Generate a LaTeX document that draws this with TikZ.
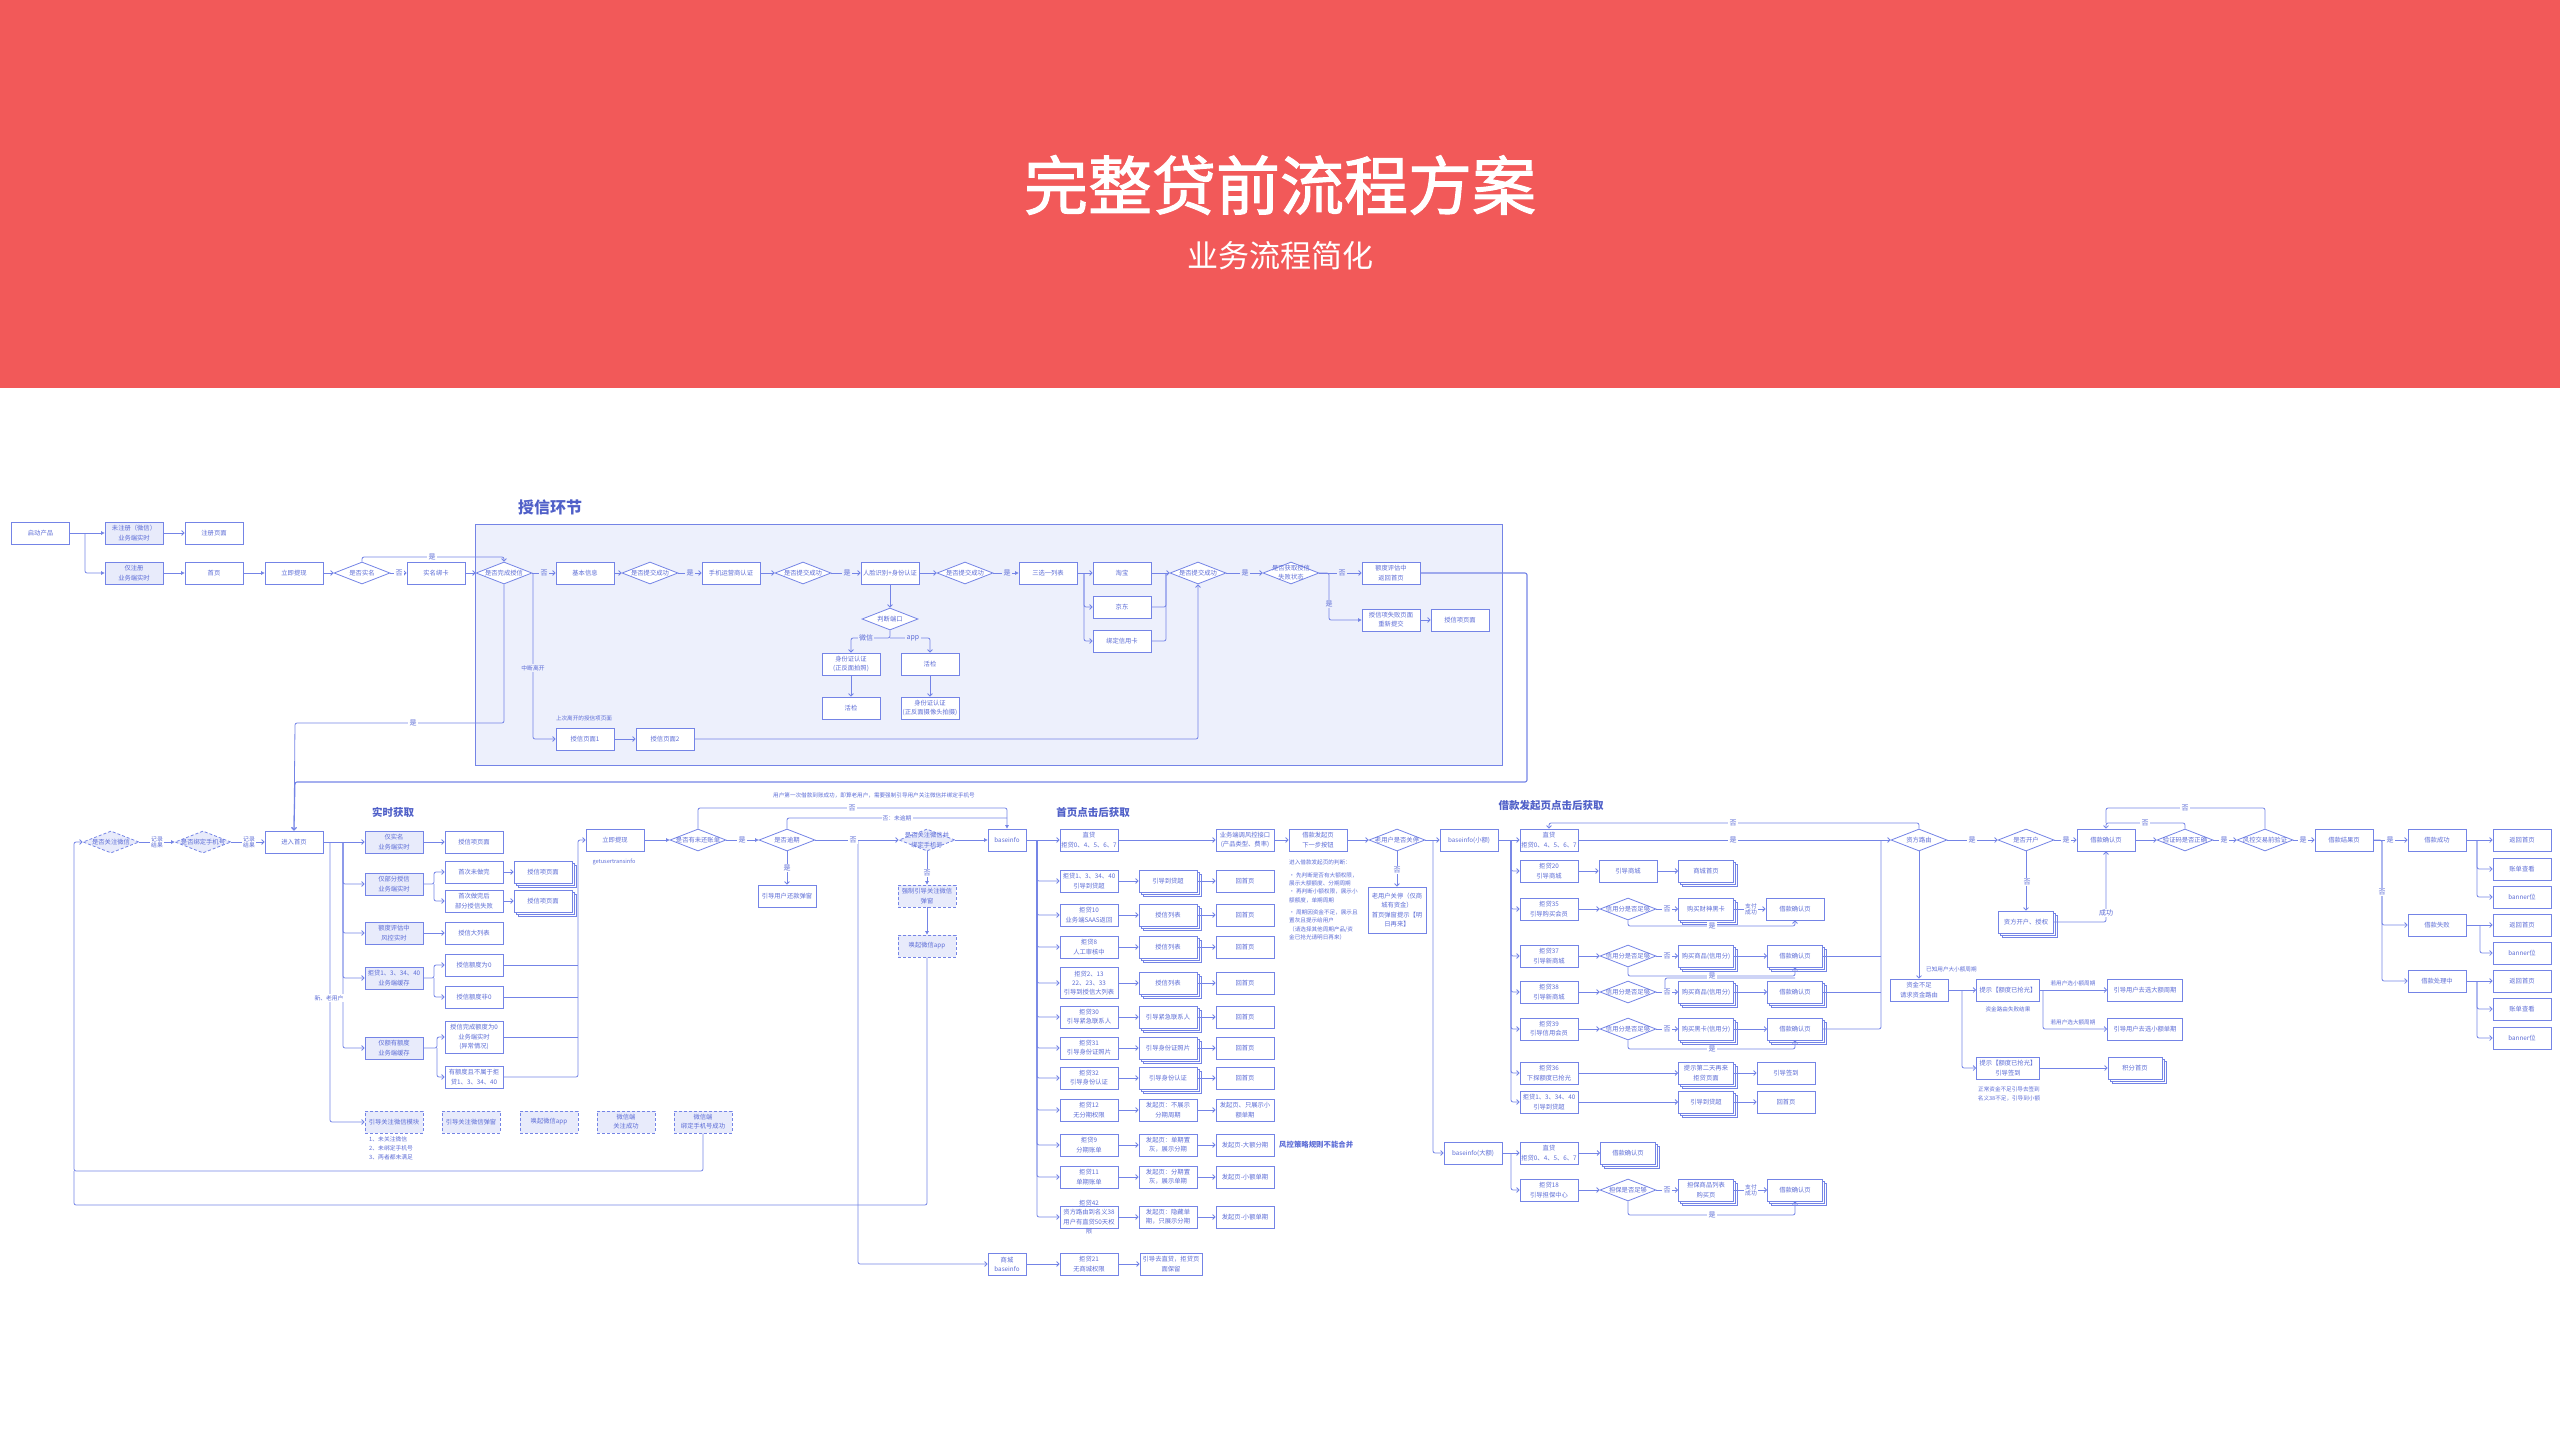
\documentclass[tikz,border=0pt]{standalone}
\usepackage{fontspec}
\setmainfont{Noto Sans CJK SC}
\newfontfamily\tmedium{Noto Sans CJK SC}[FakeBold=1.6]
\usetikzlibrary{arrows.meta,shapes.geometric,shadows}
\definecolor{lc}{RGB}{116,132,230}
\definecolor{tc}{RGB}{92,108,214}
\definecolor{hc}{RGB}{80,96,200}
\definecolor{rf}{RGB}{237,240,252}
\definecolor{lf}{RGB}{232,235,251}
\definecolor{bannerc}{RGB}{242,89,89}
\newcommand\fbx{\fontsize{6.3pt}{9.2pt}\selectfont}
\newcommand\flb{\fontsize{7pt}{8pt}\selectfont}
\newcommand\fnt{\fontsize{5.6pt}{8.3pt}\selectfont}
\newcommand\fsml{\fontsize{5.8pt}{9.2pt}\selectfont}
\newcommand\fsec{\fontsize{10.5pt}{12pt}\selectfont}
\newcommand\DIA[4][dia]{\node[#1] (#2) at (#3) {}; \node[dt] at (#2) {#4};}
\newcommand\LB[3][lb]{\node[#1] at (#2) {#3};}
\tikzset{
 bx/.style={draw=lc, fill=white, line width=0.8pt, minimum width=58pt, minimum height=22pt, inner sep=1pt, align=center, font=\fbx, text=tc},
 bxf/.style={bx, fill=lf},
 dbx/.style={bx, fill=lf, dash pattern=on 3pt off 2pt},
 stk/.style={bx, double copy shadow={shadow xshift=2pt, shadow yshift=-2pt, draw=lc, fill=white, line width=0.6pt}},
 dia/.style={diamond, draw=lc, fill=white, line width=0.8pt, minimum width=56pt, minimum height=22pt, inner sep=0pt, aspect=2.5},
 ddia/.style={dia, fill=lf, dash pattern=on 3pt off 2pt},
 dt/.style={font=\fbx, text=tc, align=center, inner sep=0pt},
 ln/.style={draw=lc, line width=0.8pt, rounded corners=2pt},
 ar/.style={-{Straight Barb[length=2.5pt,width=5pt]}},
 af/.style={-{Triangle[length=3.5pt,width=3.5pt]}},
 lb/.style={font=\flb, text=tc, fill=white, inner sep=1.2pt, align=center},
 lbr/.style={lb, fill=rf},
 sl/.style={font=\fsml, text=tc, fill=white, inner sep=1pt, align=center},
 nt/.style={font=\fnt, text=tc, inner sep=0pt, align=left},
 sec/.style={font={\fsec\bfseries}, text=hc},
}
\begin{document}
\begin{tikzpicture}[x=1pt,y=-1pt]
\useasboundingbox (0,0) rectangle (2560,1440);
% banner
\fill[bannerc] (0,0) rectangle (2560,388);
\node[text=white, font={\tmedium\fontsize{64pt}{70pt}\selectfont}] (title) at (1280,185) {完整贷前流程方案};
\node[text=white, font={\fontsize{31pt}{34pt}\selectfont}] (subtitle) at (1280,256) {业务流程简化};
% credit region
\draw[draw=lc, fill=rf, line width=0.9pt] (475,524) rectangle (1502,765);
\node[text=hc, font={\fontsize{16pt}{18pt}\selectfont\bfseries}] (sxt) at (550,507) {授信环节};

% ---------- row 1 ----------
\node[bx] (n1) at (40.5,533) {启动产品};
\node[bxf] (n2) at (134,533) {未注册（微信）\\业务端实时};
\node[bx] (n3) at (214,533) {注册页面};
\node[bxf] (n4) at (134,573) {仅注册\\业务端实时};
\node[bx] (n5) at (214,573) {首页};
\node[bx] (n6) at (294,573) {立即提现};
\DIA{d1}{362,573}{是否实名}
\node[bx] (n7) at (436,573) {实名绑卡};
\DIA{d2}{504,573}{是否完成授信}
\node[bx] (n8) at (585,573) {基本信息};
\DIA{d3}{650,573}{是否提交成功}
\node[bx] (n9) at (731,573) {手机运营商认证};
\DIA{d4}{803,573}{是否提交成功}
\node[bx] (n10) at (890,573) {人脸识别+身份认证};
\DIA{d5}{965,573}{是否提交成功}
\node[bx] (n11) at (1048,573) {三选一列表};
\node[bx] (n12) at (1122,573) {淘宝};
\node[bx] (n13) at (1122,607) {京东};
\node[bx] (n14) at (1122,641) {绑定信用卡};
\DIA{d6}{1198,573}{是否提交成功}
\DIA{d7}{1291,573}{是否获取授信\\失败状态}
\node[bx] (n15) at (1391,573) {额度评估中\\返回首页};
\node[bx] (n16) at (1391,620) {授信项失败页面\\重新提交};
\node[bx] (n17) at (1460,620) {授信项页面};
\DIA{d8}{890,619}{判断端口}
\node[bx] (n18) at (851,664) {身份证认证\\(正反面拍照)};
\node[bx] (n19) at (851,708) {活检};
\node[bx] (n20) at (930,664) {活检};
\node[bx] (n21) at (930,708) {身份证认证\\(正反面摄像头拍摄)};
\node[bx] (n22) at (585,739) {授信页面1};
\node[bx] (n23) at (665,739) {授信页面2};
\node[nt] (t1) at (584,718) {上次离开的授信项页面};

% ---------- 实时获取 ----------
\node[sec] (sec1) at (393,812) {实时获取};
\DIA[ddia]{d9}{111,842}{是否关注微信}
\DIA[ddia]{d10}{203,842}{是否绑定手机号}
\node[bx] (n24) at (294,842) {进入首页};
\node[bxf] (n25) at (394,842) {仅实名\\业务端实时};
\node[bxf] (n26) at (394,884) {仅部分授信\\业务端实时};
\node[bxf] (n27) at (394,933) {额度评估中\\风控实时};
\node[bxf] (n28) at (394,978) {拒贷1、3、34、40\\业务端缓存};
\node[bxf] (n29) at (394,1048) {仅额有额度\\业务端缓存};
\node[dbx] (n30) at (394,1122) {引导关注微信模块};
\node[nt, font=\fsml, anchor=north west] (t2) at (369,1136) {1、未关注微信\\2、未绑定手机号\\3、两者都未满足};
\node[bx] (n31) at (474,842) {授信项页面};
\node[bx] (n32) at (474,872) {首次未做完};
\node[bx] (n33) at (474,901) {首次做完后\\部分授信失败};
\node[stk] (n34) at (543,872) {授信项页面};
\node[stk] (n35) at (543,901) {授信项页面};
\node[bx] (n36) at (474,933) {授信大列表};
\node[bx] (n37) at (474,965) {授信额度为0};
\node[bx] (n38) at (474,997) {授信额度非0};
\node[bx, minimum height=32pt] (n39) at (474,1037) {授信完成额度为0\\业务端实时\\(异常情况)};
\node[bx] (n40) at (474,1077) {有额度且不属于拒\\贷1、3、34、40};
\node[dbx] (n41) at (471,1122) {引导关注微信弹窗};
\node[dbx] (n42) at (549,1122) {唤起微信app};
\node[dbx] (n43) at (626,1122) {微信端\\关注成功};
\node[dbx] (n44) at (703,1122) {微信端\\绑定手机号成功};

% ---------- middle ----------
\node[bx] (n45) at (615,840) {立即提现};
\node[nt] (t3) at (614,862) {getusertransinfo};
\DIA{d11}{698,840}{是否有未还账单}
\DIA{d12}{787,840}{是否逾期}
\node[bx] (n46) at (787,896) {引导用户还款弹窗};
\DIA[ddia]{d13}{927,840}{是否关注微信并\\绑定手机号}
\node[dbx] (n47) at (927,896) {强制引导关注微信\\弹窗};
\node[dbx] (n48) at (927,946) {唤起微信app};
\node[bx, minimum width=38pt] (n49) at (1007,840) {baseinfo};
\node[nt] (t4) at (874,795) {用户第一次借款到账成功，即算老用户，需要强制引导用户关注微信并绑定手机号};

% ---------- 首页点击后获取 ----------
\node[sec] (sec2) at (1093,812) {首页点击后获取};
\node[bx] (a1) at (1089,840) {直贷\\拒贷0、4、5、6、7};
\node[bx] (a2) at (1089,881) {拒贷1、3、34、40\\引导到贷超};
\node[bx] (a3) at (1089,915) {拒贷10\\业务端SAAS返回};
\node[bx] (a4) at (1089,947) {拒贷8\\人工审核中};
\node[bx, minimum height=31pt] (a5) at (1089,983) {拒贷2、13\\22、23、33\\引导到授信大列表};
\node[bx] (a6) at (1089,1017) {拒贷30\\引导紧急联系人};
\node[bx] (a7) at (1089,1048) {拒贷31\\引导身份证照片};
\node[bx] (a8) at (1089,1078) {拒贷32\\引导身份认证};
\node[bx] (a9) at (1089,1110) {拒贷12\\无分期权限};
\node[bx] (a10) at (1089,1145) {拒贷9\\分期账单};
\node[bx] (a11) at (1089,1177) {拒贷11\\单期账单};
\node[bx] (a12) at (1089,1217) {};
\node[dt] (a12t) at (a12) {拒贷42\\资方路由到名义38\\用户有直贷50天权\\限};
\node[stk] (b2) at (1168,881) {引导到贷超};
\node[stk] (b3) at (1168,915) {授信列表};
\node[stk] (b4) at (1168,947) {授信列表};
\node[stk] (b5) at (1168,983) {授信列表};
\node[stk] (b6) at (1168,1017) {引导紧急联系人};
\node[stk] (b7) at (1168,1048) {引导身份证照片};
\node[stk] (b8) at (1168,1078) {引导身份认证};
\node[bx] (b9) at (1168,1110) {发起页：不展示\\分期周期};
\node[bx] (b10) at (1168,1145) {发起页：单期置\\灰，展示分期};
\node[bx] (b11) at (1168,1177) {发起页：分期置\\灰，展示单期};
\node[bx] (b12) at (1168,1217) {发起页：隐藏单\\期，只展示分期};
\node[bx] (c1) at (1245,840) {业务端调风控接口\\(产品类型、费率)};
\node[bx] (c2) at (1245,881) {回首页};
\node[bx] (c3) at (1245,915) {回首页};
\node[bx] (c4) at (1245,947) {回首页};
\node[bx] (c5) at (1245,983) {回首页};
\node[bx] (c6) at (1245,1017) {回首页};
\node[bx] (c7) at (1245,1048) {回首页};
\node[bx] (c8) at (1245,1078) {回首页};
\node[bx] (c9) at (1245,1110) {发起页、只展示小\\额单期};
\node[bx] (c10) at (1245,1145) {发起页-大额分期};
\node[bx] (c11) at (1245,1177) {发起页-小额单期};
\node[bx] (c12) at (1245,1217) {发起页-小额单期};
\node[text=tc, font={\fontsize{7.4pt}{9pt}\selectfont\bfseries}, anchor=west, inner sep=0pt] (t5) at (1279,1145) {风控策略规则不能合并};
\node[bx, minimum width=38pt] (m1) at (1007,1264) {商城\\baseinfo};
\node[bx] (m2) at (1089,1264) {拒贷21\\无商城权限};
\node[bx, minimum width=62pt] (m3) at (1171,1264) {引导去直贷，拒贷页\\面保留};

% ---------- 借款发起页 ----------
\node[sec] (sec3) at (1551,806) {借款发起页点击后获取};
\node[bx] (p1) at (1318,840) {借款发起页\\下一步按钮};
\node[nt, anchor=north west] (t6) at (1289,860) {进入借款发起页的判断：\\[4pt]• 先判断是否有大额权限，\\展示大额额度、分期周期\\• 再判断小额权限，展示小\\额额度，单期周期\\[4pt]• 周期因资金不足，展示且\\置灰且提示给用户\\（请选择其他周期产品/资\\金已抢光请明日再来）};
\DIA{d14}{1397,840}{老用户是否关停}
\node[bx, minimum height=46pt] (p2) at (1397,910) {老用户关停（仅商\\城有资金）\\首页弹窗提示【明\\日再来】};
\node[bx] (p3) at (1469,840) {baseinfo(小额)};
\node[bx] (p4) at (1473,1153) {baseinfo(大额)};
\node[bx] (q1) at (1549,840) {直贷\\拒贷0、4、5、6、7};
\node[bx] (q2) at (1549,871) {拒贷20\\引导商城};
\node[bx] (q3) at (1549,909) {拒贷35\\引导购买会员};
\node[bx] (q4) at (1549,956) {拒贷37\\引导新商城};
\node[bx] (q5) at (1549,992) {拒贷38\\引导新商城};
\node[bx] (q6) at (1549,1029) {拒贷39\\引导信用会员};
\node[bx] (q7) at (1549,1073) {拒贷36\\下探额度已抢光};
\node[bx] (q8) at (1549,1102) {拒贷1、3、34、40\\引导到贷超};
\node[bx] (q9) at (1549,1153) {直贷\\拒贷0、4、5、6、7};
\node[bx] (q10) at (1549,1190) {拒贷18\\引导担保中心};
\node[bx] (s2) at (1628,871) {引导商城};
\node[stk, minimum width=55pt] (s2b) at (1706,871) {商城首页};
\DIA{r3}{1628,909}{信用分是否足够}
\DIA{r4}{1628,956}{信用分是否足够}
\DIA{r5}{1628,992}{信用分是否足够}
\DIA{r6}{1628,1029}{信用分是否足够}
\DIA{r10}{1628,1190}{担保是否足够}
\node[stk, minimum width=55pt] (k9) at (1628,1153) {借款确认页};
\node[stk, minimum width=55pt] (t3b) at (1706,909) {购买财神黑卡};
\node[stk, minimum width=55pt] (t4b) at (1706,956) {购买商品(信用分)};
\node[stk, minimum width=55pt] (t5b) at (1706,992) {购买商品(信用分)};
\node[stk, minimum width=55pt] (t6b) at (1706,1029) {购买黑卡(信用分)};
\node[stk, minimum width=55pt] (t7b) at (1706,1073) {提示第二天再来\\拒贷页面};
\node[stk, minimum width=55pt] (t8b) at (1706,1102) {引导到贷超};
\node[stk, minimum width=55pt] (t10b) at (1706,1190) {担保商品列表\\购买页};
\node[bx] (u3) at (1795,909) {借款确认页};
\node[stk, minimum width=55pt] (u4) at (1795,956) {借款确认页};
\node[stk, minimum width=55pt] (u5) at (1795,992) {借款确认页};
\node[stk, minimum width=55pt] (u6) at (1795,1029) {借款确认页};
\node[bx] (u7) at (1786,1073) {引导签到};
\node[bx] (u8) at (1786,1102) {回首页};
\node[stk, minimum width=55pt] (u10) at (1795,1190) {借款确认页};
\DIA{d15}{1919,840}{资方路由}
\DIA{d16}{2026,840}{是否开户}
\node[stk, minimum width=55pt] (v1) at (2026,922) {资方开户、授权};
\node[bx] (w1) at (2106,840) {借款确认页};
\node[bx] (x1) at (1919,990) {资金不足\\请求资金路由};
\node[bx, minimum width=63pt] (x2) at (2008,990) {提示【额度已抢光】};
\node[bx, minimum width=63pt] (x3) at (2008,1068) {提示【额度已抢光】\\引导签到};
\node[bx, minimum width=75pt] (y1) at (2145,990) {引导用户去选大额周期};
\node[bx, minimum width=75pt] (y2) at (2145,1029) {引导用户去选小额单期};
\node[stk, minimum width=54pt] (y3) at (2135,1068) {积分首页};
\node[nt, anchor=west] (t7) at (1926,969) {已知用户大小额周期};
\node[nt] (t8) at (2008,1009) {资金路由失败结果};
\node[nt, align=center] (t9) at (2009,1094) {正常资金不足引导去签到\\名义38不足，引导到小额};
\node[nt] (t10) at (2073,983) {若用户选小额周期};
\node[nt] (t11) at (2073,1022) {若用户选大额周期};
\DIA{d17}{2185,840}{验证码是否正确}
\DIA{d18}{2265,840}{风控交易前验证}
\node[bx] (z1) at (2344,840) {借款结果页};
\node[bx] (z2) at (2437,840) {借款成功};
\node[bx] (z3) at (2437,925) {借款失败};
\node[bx] (z4) at (2437,981) {借款处理中};
\node[bx] (e1) at (2522,840) {返回首页};
\node[bx] (e2) at (2522,869) {账单查看};
\node[bx] (e3) at (2522,897) {banner位};
\node[bx] (e4) at (2522,925) {返回首页};
\node[bx] (e5) at (2522,953) {banner位};
\node[bx] (e6) at (2522,981) {返回首页};
\node[bx] (e7) at (2522,1009) {账单查看};
\node[bx] (e8) at (2522,1038) {banner位};

% ================= connectors =================
% row 1
\draw[ln,af] (n1.east) -- (n2.west);
\draw[ln,af] (85,533) |- (n4.west);
\draw[ln,ar] (n2) -- (n3);
\draw[ln,af] (n4) -- (n5);
\draw[ln,af] (n5) -- (n6);
\draw[ln,ar] (n6) -- (d1);
\draw[ln,ar] (d1) -- (n7);
\draw[ln,ar] (d1.north) |- (504,557) -- (d2.north);
\draw[ln,ar] (n7) -- (d2);
\draw[ln,ar] (d2) -- (n8);
\draw[ln,ar] (n8) -- (d3);
\draw[ln,ar] (d3) -- (n9);
\draw[ln,ar] (n9) -- (d4);
\draw[ln,ar] (d4) -- (n10);
\draw[ln,ar] (n10) -- (d5);
\draw[ln,af] (d5) -- (n11);
\draw[ln,ar] (n11) -- (n12);
\draw[ln,ar] (1084,573) |- (n13.west);
\draw[ln,ar] (1084,573) |- (n14.west);
\draw[ln,ar] (n12) -- (d6);
\draw[ln] (n13.east) -| (1166,573);
\draw[ln] (n14.east) -| (1166,573);
\draw[ln,ar] (d6) -- (d7);
\draw[ln,ar] (d7) -- (n15);
\draw[ln,af] (d7.east) -- (1329,573) |- (n16.west);
\draw[ln,ar] (n16) -- (n17);
\draw[ln,ar] (n10) -- (d8);
\draw[ln,ar] (d8.south) -- (890,638) -| (n18.north);
\draw[ln,ar] (890,638) -| (n20.north);
\draw[ln,ar] (n18) -- (n19);
\draw[ln,ar] (n20) -- (n21);
\draw[ln,ar] (533,573) |- (n22.west);
\draw[ln,ar] (n22) -- (n23);
\draw[ln,ar] (n23.east) -| (d6.south);
\draw[ln,ar] (d2.south) |- (295,723) -- (n24.north);
\draw[ln,ar,line width=1.1pt] (n15.east) -- (1527,573) |- (295,782) -- (n24.north);
% 实时获取
\draw[ln,af] (d9) -- (d10);
\draw[ln,ar] (d10) -- (n24);
\draw[ln,ar] (n24) -- (n25);
\draw[ln,ar] (343,842) |- (n26.west);
\draw[ln,ar] (343,842) |- (n27.west);
\draw[ln,ar] (343,842) |- (n28.west);
\draw[ln,ar] (343,842) |- (n29.west);
\draw[ln,ar] (330,842) |- (n30.west);
\draw[ln,ar] (n25) -- (n31);
\draw[ln,ar] (n26.east) -- (434,884) |- (n32.west);
\draw[ln,ar] (434,884) |- (n33.west);
\draw[ln,ar] (n32) -- (n34);
\draw[ln,ar] (n33) -- (n35);
\draw[ln,ar] (n27) -- (n36);
\draw[ln,ar] (n28.east) -- (434,978) |- (n37.west);
\draw[ln,ar] (434,978) |- (n38.west);
\draw[ln,ar] (n29.east) -- (437,1048) |- (n39.west);
\draw[ln,ar] (437,1048) |- (n40.west);
\draw[ln] (n37.east) -- (578,965);
\draw[ln] (n38.east) -- (578,997);
\draw[ln] (n39.east) -- (578,1037);
\draw[ln,ar] (n40.east) -| (578,840) -- (n45.west);
\draw[ln,ar] (n44.south) |- (74,1171) |- (d9.west);
\draw[ln] (n48.south) |- (74,1205) -- (74,1171);
% middle
\draw[ln,af] (n45) -- (d11);
\draw[ln,af] (d11) -- (d12);
\draw[ln,af] (d11.north) |- (1007,808) -- (n49.north);
\draw[ln] (d12.north) |- (1007,818);
\draw[ln,ar] (d12.south) -- (n46.north);
\draw[ln,ar] (d12) -- (d13);
\draw[ln,ar] (858,840) |- (m1.west);
\draw[ln,af] (d13) -- (n49);
\draw[ln,af] (d13.south) -- (n47.north);
\draw[ln,af] (n47.south) -- (n48.north);
% 首页 section
\draw[ln,ar] (n49) -- (a1);
\foreach \k in {2,...,12} {\draw[ln,ar] (1037,840) |- (a\k.west);}
\draw[ln,ar] (a1) -- (c1);
\foreach \k in {2,...,12} {\draw[ln,ar] (a\k) -- (b\k); \draw[ln,ar] (b\k) -- (c\k);}
\draw[ln,ar] (m1) -- (m2);
\draw[ln,ar] (m2) -- (m3);
\draw[ln,ar] (c1) -- (p1);
% 借款发起页
\draw[ln,ar] (p1) -- (d14);
\draw[ln,ar] (d14.south) -- (p2.north);
\draw[ln,ar] (d14) -- (p3);
\draw[ln,ar] (1433,840) |- (p4.west);
\draw[ln,ar] (p3) -- (q1);
\foreach \k in {2,...,8} {\draw[ln,ar] (1511,840) |- (q\k.west);}
\draw[ln,ar] (p4) -- (q9);
\draw[ln,ar] (1511,1153) |- (q10.west);
\draw[ln,ar] (q2) -- (s2);
\draw[ln,ar] (s2) -- (s2b);
\draw[ln,ar] (q3) -- (r3);
\draw[ln,ar] (q4) -- (r4);
\draw[ln,ar] (q5) -- (r5);
\draw[ln,ar] (q6) -- (r6);
\draw[ln,ar] (q7) -- (t7b);
\draw[ln,ar] (q8) -- (t8b);
\draw[ln,ar] (q9) -- (k9);
\draw[ln,ar] (q10) -- (r10);
\draw[ln,ar] (r3) -- (t3b);
\draw[ln,ar] (r4) -- (t4b);
\draw[ln,ar] (r5) -- (t5b);
\draw[ln,ar] (r6) -- (t6b);
\draw[ln,ar] (r10) -- (t10b);
\draw[ln,ar] (t3b) -- (u3);
\draw[ln,ar] (t4b) -- (u4);
\draw[ln,ar] (t5b) -- (u5);
\draw[ln,ar] (t6b) -- (u6);
\draw[ln,ar] (t7b) -- (u7);
\draw[ln,ar] (t8b) -- (u8);
\draw[ln,ar] (t10b) -- (u10);
\draw[ln,ar] (r3.south) |- (1795,926) -- (u3.south);
\draw[ln,ar] (r4.south) |- (1795,976) -- (u4.south);
\draw[ln] (1665,992) |- (1795,978);
\draw[ln,ar] (r6.south) |- (1795,1049) -- (u6.south);
\draw[ln,ar] (r10.south) |- (1795,1215) -- (u10.south);
\draw[ln] (u4.east) -- (1881,956);
\draw[ln] (u5.east) -- (1881,992);
\draw[ln] (u6.east) -| (1881,840);
\draw[ln,ar] (q1) -- (d15);
\draw[ln,ar] (d15.north) |- (1549,823) -- (q1.north);
\draw[ln,ar] (d15) -- (d16);
\draw[ln,ar] (d16.south) -- (v1.north);
\draw[ln,ar] (v1.east) -| (w1.south);
\draw[ln,ar] (d16) -- (w1);
\draw[ln,ar] (d15.south) -- (x1.north);
\draw[ln,ar] (x1.east) -- (1962,990) -- (x2.west);
\draw[ln,ar] (1962,990) |- (x3.west);
\draw[ln,ar] (x2.east) -- (2043,990) -- (y1.west);
\draw[ln,ar] (2043,990) |- (y2.west);
\draw[ln,ar] (x3) -- (y3);
\draw[ln,ar] (w1) -- (d17);
\draw[ln,ar] (d17.north) |- (2106,823) -- (w1.north);
\draw[ln] (d18.north) |- (2106,808) -- (2106,823);
\draw[ln,ar] (d17) -- (d18);
\draw[ln,ar] (d18) -- (z1);
\draw[ln,ar] (z1) -- (z2);
\draw[ln,ar] (z1.east) -- (2382,840) |- (z4.west);
\draw[ln,ar] (2382,840) |- (z3.west);
\draw[ln,ar] (z2) -- (e1);
\draw[ln,ar] (2477,840) |- (e2.west);
\draw[ln,ar] (2477,840) |- (e3.west);
\draw[ln,ar] (z3) -- (e4);
\draw[ln,ar] (2480,925) |- (e5.west);
\draw[ln,ar] (z4) -- (e6);
\draw[ln,ar] (2477,981) |- (e7.west);
\draw[ln,ar] (2477,981) |- (e8.west);

% ================= labels =================
\LB{432,557}{是}
\LB{399,573}{否}
\LB[lbr]{544,573}{否}
\LB[lbr]{690,573}{是}
\LB[lbr]{847,573}{是}
\LB[lbr]{1007,573}{是}
\LB[lbr]{1245,573}{是}
\LB[lbr]{1342,573}{否}
\LB[lbr]{1329,604}{是}
\node[lbr, font=\fsml] at (533,668) {中断离开};
\LB[lbr]{866,638}{微信}
\LB[lbr]{913,638}{app}
\LB{413,723}{是}
\node[sl] at (157,842) {记录\\[-3pt]结果};
\node[sl] at (249,842) {记录\\[-3pt]结果};
\node[sl] at (329,998) {新、老用户};
\LB{742,840}{是}
\LB{852,808}{否}
\node[sl] at (897,818) {否：未逾期};
\LB{787,868}{是}
\LB{853,840}{否}
\LB{927,873}{否}
\LB{1397,870}{否}
\LB{1667,909}{否}
\LB{1667,956}{否}
\LB{1667,992}{否}
\LB{1667,1029}{否}
\LB{1667,1190}{否}
\LB{1712,926}{是}
\LB{1712,976}{是}
\LB{1712,1049}{是}
\LB{1712,1215}{是}
\node[sl] at (1751,909) {支付\\[-3pt]成功};
\node[sl] at (1751,1190) {支付\\[-3pt]成功};
\LB{1733,840}{是}
\LB{1733,823}{否}
\LB{1972,840}{是}
\LB{2027,882}{否}
\LB{2106,913}{成功}
\LB{2066,840}{是}
\LB{2145,823}{否}
\LB{2185,808}{否}
\LB{2224,840}{是}
\LB{2303,840}{是}
\LB{2390,840}{是}
\LB{2382,892}{否}
\end{tikzpicture}
\end{document}
